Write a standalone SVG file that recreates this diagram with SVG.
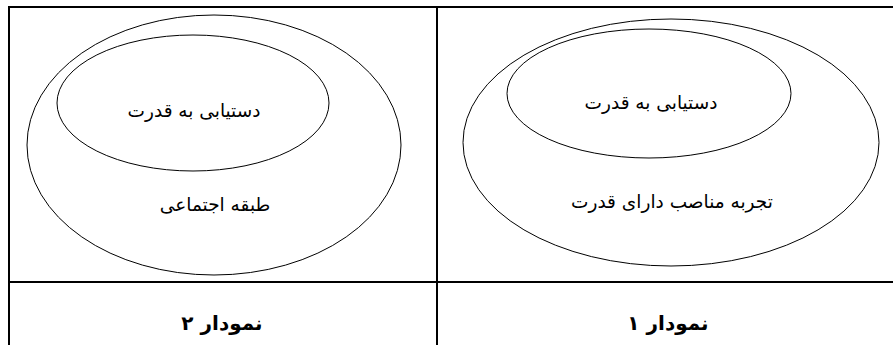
<svg xmlns="http://www.w3.org/2000/svg" width="893" height="345" viewBox="0 0 893 345">
<style>
.ln{stroke:#000;stroke-width:2;fill:none}
.el{stroke:#000;stroke-width:1;fill:none}
.t{font-family:"DejaVu Sans","Noto Sans",sans-serif;font-size:18.5px;fill:#000;text-anchor:middle;direction:rtl}
.b{font-weight:bold;font-size:20px}
</style>
<rect width="893" height="345" fill="#fff"/>
<g id="table">
<line class="ln" x1="8" y1="7" x2="893" y2="7"/>
<line class="ln" x1="8" y1="282" x2="893" y2="282"/>
<line class="ln" x1="9" y1="6" x2="9" y2="345"/>
<line class="ln" x1="437" y1="6" x2="437" y2="345"/>
</g>
<g id="diagram2">
<g id="d2-outer"><ellipse class="el" cx="214" cy="145" rx="187" ry="130"/><text class="t" x="215" y="211">طبقه اجتماعی</text></g>
<g id="d2-inner"><ellipse class="el" cx="193" cy="103" rx="136" ry="68"/><text class="t" x="194" y="117">دستیابی به قدرت</text></g>
<text class="t b" x="222" y="330">نمودار ۲</text>
</g>
<g id="diagram1">
<g id="d1-outer"><ellipse class="el" cx="671" cy="142.5" rx="208" ry="123.5"/><text class="t" x="672" y="208">تجربه مناصب دارای قدرت</text></g>
<g id="d1-inner"><ellipse class="el" cx="649" cy="93.5" rx="142" ry="64.5"/><text class="t" x="651" y="109">دستیابی به قدرت</text></g>
<text class="t b" x="668" y="330">نمودار ۱</text>
</g>
<g id="connectors"></g>
</svg>
